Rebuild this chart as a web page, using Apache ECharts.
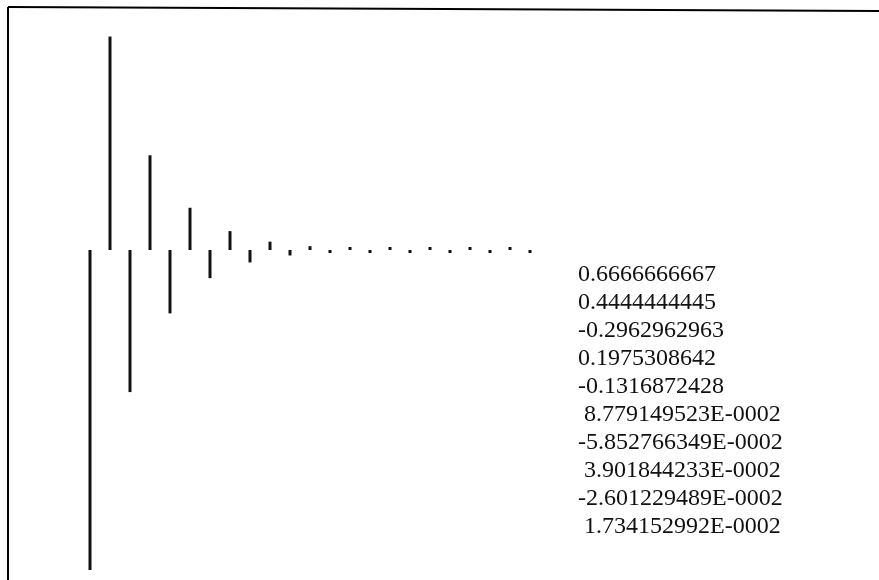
<!DOCTYPE html>
<html>
<head>
<meta charset="utf-8">
<script src="https://cdn.jsdelivr.net/npm/echarts@6/dist/echarts.min.js"></script>
<style>
html,body{margin:0;padding:0;background:#fff;}
#c{width:879px;height:580px;}
</style>
</head>
<body>
<div id="c"></div>
<script>
// Data
const categories = ['1','2','3','4','5','6','7','8','9','10','11','12','13','14','15','16','17','18','19','20','21','22','23'];
const values = [-1, 0.667, -0.444, 0.296, -0.198, 0.132, -0.088, 0.059, -0.039, 0.026, -0.017, 0.012,
                -0.008, 0.005, -0.003, 0.002, -0.0015, 0.001, -0.0007, 0.0005, -0.0003, 0.0002, -0.0001];
const listLabels = [
  '0.6666666667',
  '0.4444444445',
  '-0.2962962963',
  '0.1975308642',
  '-0.1316872428',
  ' 8.779149523E-0002',
  '-5.852766349E-0002',
  ' 3.901844233E-0002',
  '-2.601229489E-0002',
  ' 1.734152992E-0002'
];

const chart = echarts.init(document.getElementById('c'), null, {renderer: 'canvas'});

const graphics = [
  {type: 'line', shape: {x1: 8, y1: 7, x2: 8, y2: 580}, style: {stroke: '#000', lineWidth: 2}, silent: true},
  {type: 'line', shape: {x1: 8, y1: 7, x2: 879, y2: 11}, style: {stroke: '#000', lineWidth: 2}, silent: true}
];
listLabels.forEach(function (t, k) {
  graphics.push({
    type: 'text', left: 578, top: 263 + 28 * k, silent: true,
    style: {text: t, fill: '#111', font: '24px "Liberation Serif", "Times New Roman", serif'}
  });
});

chart.setOption({
  animation: false,
  backgroundColor: '#fff',
  grid: {left: 80, width: 460, top: 10, height: 560},
  xAxis: {
    type: 'category', data: categories, boundaryGap: true,
    axisLine: {show: false}, axisTick: {show: false}, axisLabel: {show: false}, splitLine: {show: false}
  },
  yAxis: {
    type: 'value', min: -1, max: 0.75,
    axisLine: {show: false}, axisTick: {show: false}, axisLabel: {show: false}, splitLine: {show: false}
  },
  series: [{
    type: 'bar', data: values, barWidth: 3, barMinHeight: 3,
    itemStyle: {color: '#111'}
  }],
  graphic: graphics
});
</script>
</body>
</html>
